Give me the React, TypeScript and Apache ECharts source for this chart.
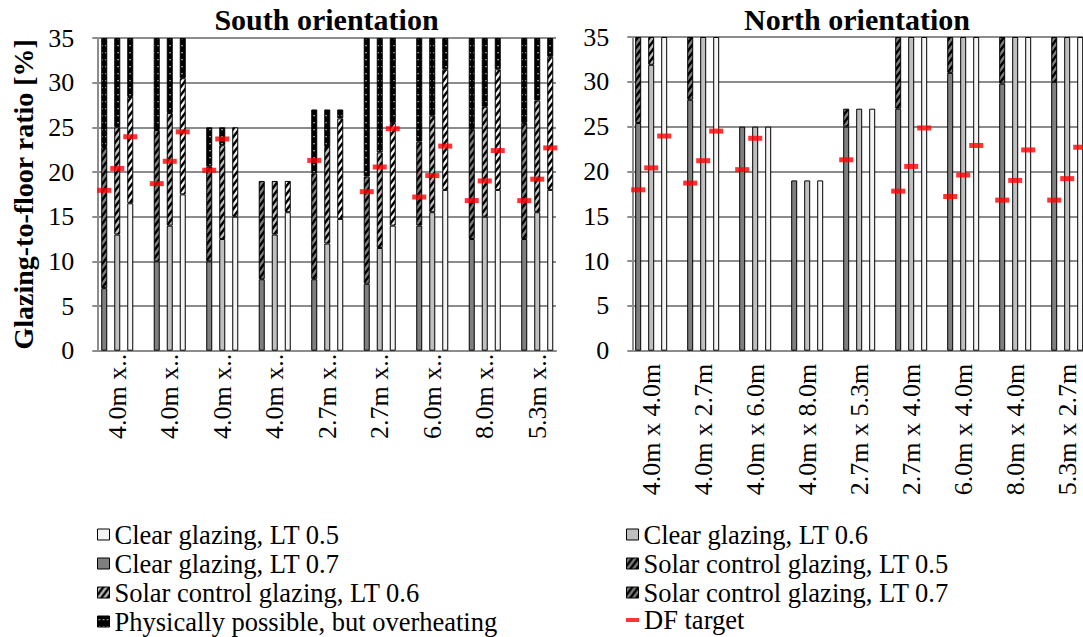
import React, { useEffect, useRef } from 'react';
import * as echarts from 'echarts';

// ---------- data ----------
const categories = [
  '4.0m x 4.0m', '4.0m x 2.7m', '4.0m x 6.0m', '4.0m x 8.0m', '2.7m x 5.3m',
  '2.7m x 4.0m', '6.0m x 4.0m', '8.0m x 4.0m', '5.3m x 2.7m',
];
const lightTransmittance = ['0.7', '0.6', '0.5'];

// South orientation: top of clear glazing segment, top of solar control segment, total height
const southClear07 = [7, 10, 10, 8, 8, 7.5, 14, 12.5, 12.5];
const southClear06 = [13, 14, 12.5, 13, 12, 11.5, 15.5, 15, 15.5];
const southClear05 = [16.5, 17.5, 15, 15.5, 14.75, 14, 18, 18, 18];
const southSolar07 = [22.8, 24.7, 20.6, 19, 19.85, 19.5, 23.4, 24.8, 25.5];
const southSolar06 = [25, 26.6, 23, 19, 22.8, 22.2, 26.3, 27.3, 28];
const southSolar05 = [28.4, 30.5, 25, 19, 26, 25.5, 31.5, 31.5, 32.9];
const southTotal = [35, 35, 25, 19, 27, 35, 35, 35, 35];

// North orientation
const northClear07 = [25.4, 28, 25, 19, 25, 27, 31, 29.8, 30];
const northClear06 = [31.9, 35, 25, 19, 27, 35, 35, 35, 35];
const northClear05 = [35, 35, 25, 19, 27, 35, 35, 35, 35];
const northSolar07 = [35, 35, 25, 19, 27, 35, 35, 35, 35];
const northSolar06 = [35, 35, 25, 19, 27, 35, 35, 35, 35];
const northSolar05 = [35, 35, 25, 19, 27, 35, 35, 35, 35];
const northTotal = [35, 35, 25, 19, 27, 35, 35, 35, 35];

// DF target (same for both orientations)
const dfTarget07 = [17.95, 18.7, 20.2, null, 21.3, 17.8, 17.2, 16.8, 16.8];
const dfTarget06 = [20.4, 21.2, 23.7, null, null, 20.56, 19.6, 19.0, 19.2];
const dfTarget05 = [23.95, 24.5, null, null, null, 24.85, 22.9, 22.4, 22.7];

// ---------- styles ----------
const FONT = '"Liberation Serif", "Times New Roman", "DejaVu Serif", serif';
const GRID_COLOR = '#8c8c8c';
const CLEAR_COLORS = ['#7f7f7f', '#bfbfbf', '#f4f4f4'];
const OVER = 'Physically possible, but overheating';

function hatchPattern(bg: string) {
  const svg = `<svg xmlns="http://www.w3.org/2000/svg" width="6" height="8"><rect width="6" height="8" fill="${bg}"/><path d="M0,8 L6,0 M-6,8 L6,-8 M0,16 L12,0" stroke="#000" stroke-width="2.4" fill="none"/></svg>`;
  return {
    image: 'data:image/svg+xml;charset=utf-8,' + encodeURIComponent(svg),
    repeat: 'repeat',
    imageWidth: 6,
    imageHeight: 8,
  };
}
function dotPattern() {
  const svg = `<svg xmlns="http://www.w3.org/2000/svg" width="4" height="7"><rect width="4" height="7" fill="#000"/><rect x="1.4" y="3" width="1.3" height="1.3" fill="#d4d4d4"/></svg>`;
  return {
    image: 'data:image/svg+xml;charset=utf-8,' + encodeURIComponent(svg),
    repeat: 'repeat',
    imageWidth: 4,
    imageHeight: 7,
  };
}
const HATCH = CLEAR_COLORS.map((c) => hatchPattern(c));
const DOTS = dotPattern();

const pos = (v: number) => (v > 0.001 ? +v.toFixed(3) : null);

function panelSeries(prefix: string, axisIndex: number, clears: number[][], solars: number[][], total: number[]) {
  const out: any[] = [];
  clears.forEach((clear, j) => {
    const base = {
      type: 'bar',
      xAxisIndex: axisIndex,
      yAxisIndex: axisIndex,
      stack: prefix + j,
      barWidth: 6,
      barGap: '116.67%',
    };
    const border = { borderColor: '#000', borderWidth: 1 };
    out.push({
      ...base,
      name: `Clear glazing, LT ${lightTransmittance[j]}`,
      itemStyle: { ...border, color: CLEAR_COLORS[j] },
      data: clear.map(pos),
    });
    out.push({
      ...base,
      name: `Solar control glazing, LT ${lightTransmittance[j]}`,
      itemStyle: { ...border, color: HATCH[j] },
      data: solars[j].map((s, i) => pos(s - clear[i])),
    });
    out.push({
      ...base,
      name: OVER,
      itemStyle: { ...border, color: DOTS },
      data: total.map((t, i) => pos(t - solars[j][i])),
    });
  });
  [dfTarget07, dfTarget06, dfTarget05].forEach((df, j) => {
    out.push({
      type: 'scatter',
      name: 'DF target',
      xAxisIndex: axisIndex,
      yAxisIndex: axisIndex,
      symbol: 'rect',
      symbolSize: [14, 5],
      symbolOffset: [(j - 1) * 13, 0],
      itemStyle: { color: '#ff0000' },
      z: 5,
      data: df,
    });
  });
  return out;
}

const labelStyle = { fontFamily: FONT, fontSize: 26, color: '#000' };

function visualAxes(gridIndex: number, withName: boolean) {
  const x = {
    type: 'value', gridIndex, min: 0, max: 1,
    axisLine: { show: true, onZero: false, lineStyle: { color: GRID_COLOR, width: 2 } },
    axisTick: { show: false }, axisLabel: { show: false }, splitLine: { show: false },
  };
  const y: any = {
    type: 'value', gridIndex, min: 0, max: 35, interval: 5,
    axisLine: { show: true, lineStyle: { color: GRID_COLOR, width: 2 } },
    axisTick: { show: true, length: 5, lineStyle: { color: GRID_COLOR, width: 2 } },
    axisLabel: { ...labelStyle, margin: 23 },
    splitLine: { show: true, lineStyle: { color: GRID_COLOR, width: 2 } },
  };
  if (withName) {
    Object.assign(y, {
      name: 'Glazing-to-floor ratio [%]',
      nameLocation: 'middle',
      nameGap: 60,
      nameMoveOverlap: false,
      nameTextStyle: { fontFamily: FONT, fontSize: 28, fontWeight: 'bold', color: '#000' },
    });
  }
  return { x, y };
}

function dataAxes(gridIndex: number, margin: number, truncate: boolean) {
  const x: any = {
    type: 'category', gridIndex, data: categories,
    axisLine: { show: false }, axisTick: { show: false }, splitLine: { show: false },
    axisLabel: {
      ...labelStyle, rotate: 90, interval: 0, margin,
      ...(truncate ? { width: 88, overflow: 'truncate', ellipsis: '..' } : {}),
    },
  };
  const y = { type: 'value', gridIndex, min: 0, max: 35, show: false };
  return { x, y };
}

const sv = visualAxes(0, true);
const sd = dataAxes(1, 3, true);
const nv = visualAxes(2, false);
const nd = dataAxes(3, 13, false);

const legendBase = {
  orient: 'vertical',
  itemWidth: 12,
  itemHeight: 11,
  itemGap: 2,
  padding: 0,
  height: 130,
  icon: 'rect',
  selectedMode: false,
  textStyle: { fontFamily: FONT, fontSize: 26.5, color: '#000' },
};
const border = { borderColor: '#000', borderWidth: 1 };

const titleStyle = { fontFamily: FONT, fontSize: 30, fontWeight: 'bold', fill: '#000', align: 'center', verticalAlign: 'middle' };

const option: any = {
  animation: false,
  backgroundColor: '#fff',
  textStyle: { fontFamily: FONT },
  grid: [
    { left: 97.3, top: 38, width: 458.7, height: 312.7, outerBoundsMode: 'none' },
    { left: 91, top: 38, width: 472.5, height: 312.7, outerBoundsMode: 'none' },
    { left: 632.3, top: 37, width: 451, height: 313.7, outerBoundsMode: 'none' },
    { left: 625.2, top: 37, width: 468, height: 313.7, outerBoundsMode: 'none' },
  ],
  xAxis: [sv.x, sd.x, nv.x, nd.x],
  yAxis: [sv.y, sd.y, nv.y, nd.y],
  legend: [
    {
      ...legendBase, left: 97, top: 521,
      data: [
        { name: 'Clear glazing, LT 0.5', itemStyle: { ...border, color: CLEAR_COLORS[2] } },
        { name: 'Clear glazing, LT 0.7', itemStyle: { ...border, color: CLEAR_COLORS[0] } },
        { name: 'Solar control glazing, LT 0.6', itemStyle: { ...border, color: HATCH[1] } },
        { name: OVER, itemStyle: { ...border, color: DOTS } },
      ],
    },
    {
      ...legendBase, left: 626, top: 521,
      data: [
        { name: 'Clear glazing, LT 0.6', itemStyle: { ...border, color: CLEAR_COLORS[1] } },
        { name: 'Solar control glazing, LT 0.5', itemStyle: { ...border, color: HATCH[0] } },
        { name: 'Solar control glazing, LT 0.7', itemStyle: { ...border, color: HATCH[0] } },
      ],
    },
    {
      ...legendBase, left: 626, top: 521 + 3 * 28.5, height: 28, itemWidth: 13, itemHeight: 4,
      data: [{ name: 'DF target', itemStyle: { color: '#ff0000', borderWidth: 0 } }],
    },
  ],
  graphic: [
    { type: 'text', x: 326.5, y: 19, style: { ...titleStyle, text: 'South orientation' } },
    { type: 'text', x: 857, y: 19, style: { ...titleStyle, text: 'North orientation' } },
  ],
  series: [
    ...panelSeries('S', 1, [southClear07, southClear06, southClear05], [southSolar07, southSolar06, southSolar05], southTotal),
    ...panelSeries('N', 3, [northClear07, northClear06, northClear05], [northSolar07, northSolar06, northSolar05], northTotal),
  ],
};

export default function App() {
  const ref = useRef<HTMLDivElement>(null);
  useEffect(() => {
    const chart = echarts.init(ref.current!, null, { renderer: 'svg' });
    chart.setOption(option);
    return () => chart.dispose();
  }, []);
  return (
    <div
      ref={ref}
      style={{ position: 'fixed', left: 0, top: 0, width: 1083, height: 637, background: '#fff' }}
    />
  );
}
